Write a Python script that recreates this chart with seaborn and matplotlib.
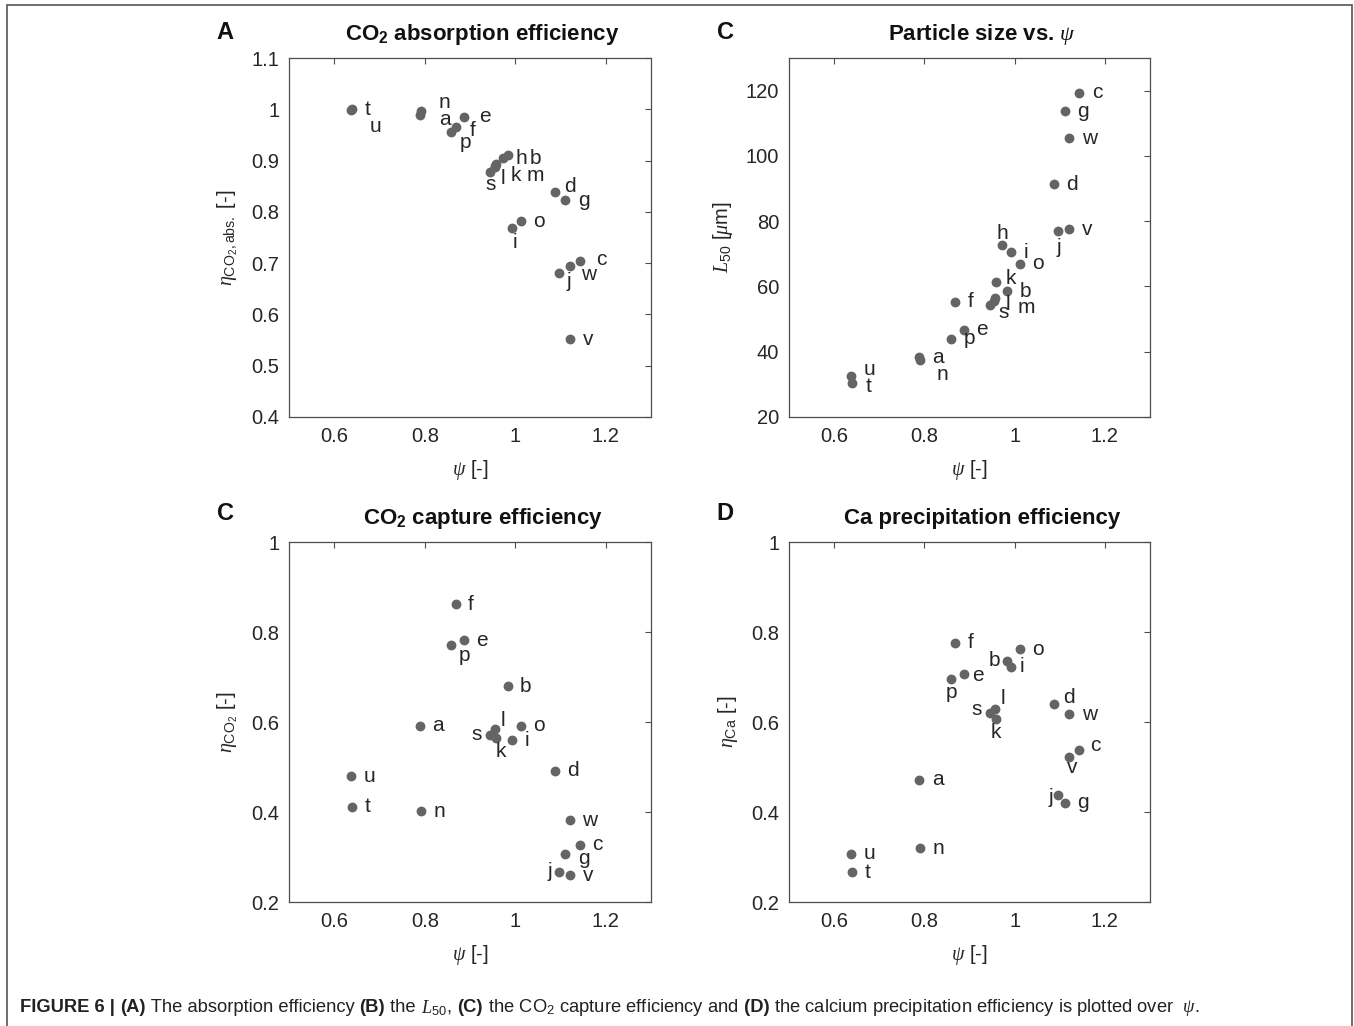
import numpy as np
import pandas as pd
import seaborn as sns
import matplotlib.pyplot as plt
from matplotlib.patches import Rectangle

# sample names and values
samples = ["a", "b", "c", "d", "e", "f", "g", "h", "i", "j", "k",
           "l", "m", "n", "o", "p", "s", "t", "u", "v", "w"]
psi = [0.789, 0.983, 1.143, 1.087, 0.887, 0.868, 1.111, 0.972, 0.993, 1.097, 0.958,
       0.956, 0.955, 0.791, 1.012, 0.859, 0.945, 0.640, 0.638, 1.121, 1.121]
eta_abs = [0.988, 0.910, 0.705, 0.838, 0.985, 0.965, 0.823, 0.905, 0.768, 0.680, 0.893,
           0.890, 0.888, 0.997, 0.782, 0.955, 0.878, 1.000, 0.998, 0.552, 0.695]
L50 = [38.3, 58.6, 119.3, 91.3, 46.8, 55.3, 113.7, 72.8, 70.5, 76.9, 61.3,
       56.6, 55.6, 37.6, 66.9, 43.9, 54.2, 30.5, 32.5, 77.5, 105.4]
eta_co2 = [0.592, 0.680, 0.327, 0.492, 0.782, 0.862, 0.307, np.nan, 0.559, 0.267, 0.565,
           0.585, np.nan, 0.402, 0.592, 0.772, 0.572, 0.412, 0.480, 0.259, 0.382]
eta_ca = [0.472, 0.736, 0.538, 0.639, 0.706, 0.776, 0.421, np.nan, 0.723, 0.438, 0.607,
          0.630, np.nan, 0.319, 0.762, 0.696, 0.621, 0.266, 0.307, 0.523, 0.617]

psi_ticks = [0.6, 0.8, 1.0, 1.2]
psi_ticklabels = ["0.6", "0.8", "1", "1.2"]

df = pd.DataFrame({"sample": samples, "psi": psi, "eta_abs": eta_abs,
                   "L50": L50, "eta_co2": eta_co2, "eta_ca": eta_ca})

sns.set_theme(style="white")
plt.rcParams["font.family"] = ["Liberation Sans", "DejaVu Sans"]
plt.rcParams["mathtext.fontset"] = "custom"
plt.rcParams["mathtext.rm"] = "Liberation Sans"
plt.rcParams["mathtext.bf"] = "Liberation Sans:bold"
plt.rcParams["mathtext.it"] = "Liberation Serif:italic"

dot = "#646464"
ink = "#262626"

# label offsets (points) that differ from the default right-hand placement
offsets = {
    "A": {"u": (13, -12, "left"), "n": (13, 6, "left"), "a": (14, -3, "left"),
          "f": (10, -2, "left"), "e": (11, 0, "left"),
          "p": (6, -7, "left"), "b": (16, -2, "left"), "s": (0, -9, "center"),
          "l": (4, -9, "left"), "k": (10, -8, "left"), "m": (23, -6, "left"),
          "d": (7, 4, "left"), "i": (2, -10, "center"), "c": (12, 1, "left"),
          "w": (8, -6, "left"), "j": (5, -6, "left")},
    "B": {"j": (0, -12, "center"), "h": (0, 8, "center"), "k": (7, 3, "left"),
          "l": (8, -5, "left"), "m": (17, -5, "left"), "s": (6, -5, "left"),
          "n": (12, -11, "left"), "u": (9, 5, "left"), "t": (10, -3, "left")},
    "C": {"p": (5, -8, "left"), "l": (4, 6, "left"), "s": (-6, 0, "right"),
          "k": (3, -10, "center"), "g": (9, -3, "left"), "j": (-5, 0, "right")},
    "D": {"b": (-5, 0, "right"), "i": (6, 0, "left"), "e": (6, -1, "left"),
          "p": (0, -10, "center"), "d": (7, 5, "left"), "l": (4, 7, "left"),
          "s": (-6, 2, "right"), "k": (0, -10, "center"), "c": (8, 3, "left"),
          "v": (2, -8, "center"), "j": (-4, -2, "right")},
}

fig = plt.figure(figsize=(13.54, 10.26), dpi=100)
W, H = 1354, 1026


def make_ax(left, top, right, bottom):
    return fig.add_axes([left / W, 1 - bottom / H, (right - left) / W, (bottom - top) / H])


panels = [
    ("A", make_ax(289, 58, 651, 417), "eta_abs", r"CO$_\mathbf{2}$ absorption efficiency",
     r"$\eta_{\mathrm{CO_2,abs.}}$ [-]", (0.4, 1.1), np.arange(0.4, 1.101, 0.1),
     ["0.4", "0.5", "0.6", "0.7", "0.8", "0.9", "1", "1.1"], "A"),
    ("B", make_ax(789, 58, 1150, 417), "L50", r"Particle size vs. $\psi$",
     r"$L_{50}$ [$\mu$m]", (20, 130), np.arange(20, 121, 20),
     ["20", "40", "60", "80", "100", "120"], "C"),
    ("C", make_ax(289, 542, 651, 902), "eta_co2", r"CO$_\mathbf{2}$ capture efficiency",
     r"$\eta_{\mathrm{CO_2}}$ [-]", (0.2, 1.0), np.arange(0.2, 1.01, 0.2),
     ["0.2", "0.4", "0.6", "0.8", "1"], "C"),
    ("D", make_ax(789, 542, 1150, 902), "eta_ca", "Ca precipitation efficiency",
     r"$\eta_{\mathrm{Ca}}$ [-]", (0.2, 1.0), np.arange(0.2, 1.01, 0.2),
     ["0.2", "0.4", "0.6", "0.8", "1"], "D"),
]

for key, ax, col, title, ylabel, ylim, yticks, yticklabels, letter in panels:
    sub = df.dropna(subset=[col])
    sns.scatterplot(data=sub, x="psi", y=col, ax=ax, color=dot, s=50,
                    linewidth=0, legend=False)
    for _, r in sub.iterrows():
        dx, dy, ha = offsets[key].get(r["sample"], (9, 0, "left"))
        ax.annotate(r["sample"], (r["psi"], r[col]), xytext=(dx, dy),
                    textcoords="offset points", ha=ha, va="center",
                    fontsize=15, color=ink)
    ax.set_xlim(0.5, 1.3)
    ax.set_ylim(*ylim)
    ax.set_xticks(psi_ticks)
    ax.set_xticklabels(psi_ticklabels)
    ax.set_yticks(yticks)
    ax.set_yticklabels(yticklabels)
    ax.tick_params(direction="in", length=4, width=0.8, color="#4d4d4d",
                   top=True, right=True, labelsize=14.5, labelcolor=ink, pad=7)
    for sp in ax.spines.values():
        sp.set_color("#4d4d4d")
        sp.set_linewidth(0.9)
    ax.set_xlabel(r"$\psi$ [-]", fontsize=14.5, color=ink, labelpad=9)
    ax.set_ylabel(ylabel, fontsize=14.5, color=ink, labelpad=8)
    ax.set_title(title, fontsize=16, fontweight="bold", color="#111111", pad=13, x=0.535)
    ax.text(-0.2, 1.07 if key in "AB" else 1.08, letter, transform=ax.transAxes,
            fontsize=17, fontweight="bold", color="#111111", ha="left", va="center")

# outer frame
fig.patches.append(Rectangle((7 / W, -0.01), 1345 / W, 1 - 5 / H + 0.01,
                             transform=fig.transFigure, fill=False,
                             edgecolor="#555555", linewidth=1.2))

# caption with mixed bold / regular parts
caption = [
    ("FIGURE 6 | ", "bold"), ("(A)", "bold"), (" The absorption efficiency ", "normal"),
    ("(B)", "bold"), (" the ", "normal"), (r"$L_{50}$", "normal"), (", ", "normal"),
    ("(C)", "bold"), (r" the CO$_2$ capture efficiency and", "normal"),
    (" (D)", "bold"), (r" the calcium precipitation efficiency is plotted over  $\psi$.", "normal"),
]
renderer = fig.canvas.get_renderer()
x = 20 / W
for txt, wt in caption:
    t = fig.text(x, 1 - 1008 / H, txt, fontsize=13.2, fontweight=wt, color="#222222",
                 family=["Liberation Sans Narrow", "Liberation Sans"], va="center")
    bb = t.get_window_extent(renderer)
    x += bb.width / W

fig.savefig("out.png", dpi=100)
